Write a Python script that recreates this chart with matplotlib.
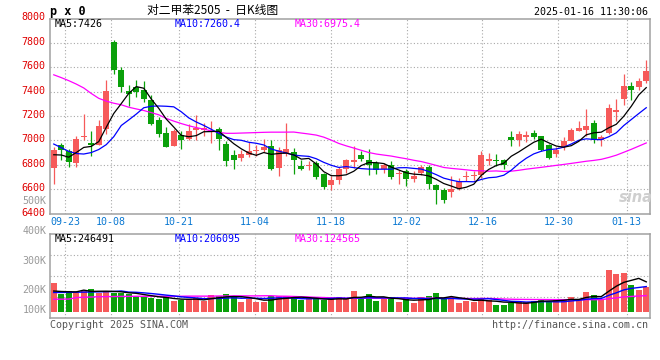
import numpy as np
import matplotlib
matplotlib.use('Agg')
import matplotlib.pyplot as plt
from matplotlib.transforms import ScaledTranslation

# ---------------- data ----------------
dates = ['09-19','09-20','09-23','09-24','09-25','09-26','09-27','09-30',
         '10-08','10-09','10-10','10-11','10-14','10-15','10-16','10-17','10-18',
         '10-21','10-22','10-23','10-24','10-25','10-28','10-29','10-30','10-31',
         '11-01','11-04','11-05','11-06','11-07','11-08','11-11','11-12','11-13','11-14','11-15',
         '11-18','11-19','11-20','11-21','11-22','11-25','11-26','11-27','11-28','11-29',
         '12-02','12-03','12-04','12-05','12-06','12-09','12-10','12-11','12-12','12-13',
         '12-16','12-17','12-18','12-19','12-20','12-23','12-24','12-25','12-26','12-27',
         '12-30','12-31','01-02','01-03','01-06','01-07','01-08','01-09','01-10',
         '01-13','01-14','01-15','01-16']

opens = [6773,6959,6915,6814,7024,6978,6965,7095,7806,7579,
         7407,7437,7415,7333,7164,7060,6951,7046,7014,7088,
         7082,7065,7093,6972,6882,6858,6882,6910,6923,6956,
         6773,6890,6901,6792,6787,6814,6724,6636,6672,6765,
         6822,6877,6841,6814,6765,6800,6724,6745,6685,6732,
         6778,6636,6590,6573,6609,6700,6706,6715,6828,6841,
         6836,7024,7005,7030,7060,7038,6964,6890,6945,6997,
         7079,7087,7142,7005,7060,7229,7339,7448,7434,7484]
highs = [6945,6978,6930,7038,7218,7073,7170,7497,7820,7600,
         7456,7497,7489,7374,7188,7110,7090,7074,7136,7210,
         7142,7156,7106,6992,6923,6923,6989,6964,7011,7005,
         6942,7142,6937,6841,6833,6828,6732,6705,6781,6850,
         6956,6910,6929,6828,6814,6833,6759,6765,6745,6800,
         6800,6644,6609,6705,6691,6751,6745,6915,6896,6887,
         6850,7079,7079,7079,7087,7040,6973,6943,7024,7101,
         7156,7257,7169,7046,7298,7341,7546,7475,7511,7661]
lows = [6645,6841,6780,6778,7005,6869,6960,7054,7546,7400,
        7284,7352,7311,7128,7027,6942,6950,6931,7005,7000,
        7033,6978,6918,6792,6768,6828,6863,6874,6901,6759,
        6710,6869,6726,6754,6754,6683,6601,6590,6642,6732,
        6773,6828,6718,6726,6732,6685,6644,6622,6655,6718,
        6603,6478,6486,6535,6595,6663,6672,6691,6800,6792,
        6765,6956,6950,6983,7014,6915,6847,6860,6923,6992,
        7074,7033,6978,6956,7052,7156,7292,7333,7415,7470]
closes = [6923,6923,6820,7013,7032,6965,7120,7407,7579,7437,
          7382,7401,7341,7136,7054,6942,7074,7000,7079,7100,
          7101,7082,7013,6828,6841,6890,6910,6918,6942,6768,
          6923,6931,6841,6768,6797,6696,6614,6677,6765,6836,
          6841,6849,6800,6759,6800,6696,6730,6685,6704,6781,
          6642,6590,6513,6601,6669,6705,6712,6877,6846,6828,
          6798,7000,7054,7046,7024,6923,6852,6923,6997,7087,
          7101,7120,7005,7024,7265,7246,7448,7415,7489,7566]
volumes = [240000,148000,172000,167000,169000,189000,153000,175000,158000,153000,
           148000,131000,126000,112000,107000,120000,90000,98000,107000,112000,
           90000,139000,134000,145000,126000,85000,104000,85000,85000,131000,
           131000,128000,120000,98000,112000,107000,98000,104000,120000,104000,
           172000,104000,148000,90000,107000,117000,85000,104000,71000,120000,
           131000,153000,104000,126000,71000,93000,82000,112000,98000,57000,
           57000,74000,85000,85000,90000,107000,82000,98000,104000,126000,
           104000,164000,139000,98000,344000,311000,322000,221000,180000,202000]

# moving-average values before enough history exists
ma5_head = [6882, 6880, 6862, 6900]
ma10_head = [6970, 6940, 6910, 6892, 6888, 6900, 6925, 6965, 7030]
ma30_head = [7538, 7515, 7490, 7462, 7430, 7385, 7345, 7322, 7305, 7292,
             7272, 7258, 7245, 7228, 7210, 7180, 7158, 7138, 7120, 7105,
             7092, 7078, 7065, 7058, 7058, 7060, 7062, 7064, 7066]
vma5_head = [172000, 168000, 166000, 165000]
vma10_head = [160000, 160000, 161000, 162000, 163000, 164000, 165000, 166000, 168000]
vma30_head = [105000, 105000, 106000, 118000, 121000, 123000, 125000, 126000, 127000, 128000,
              128000, 129000, 129000, 129000, 129000, 129000, 129000, 129000, 130000, 130000,
              130000, 130000, 131000, 131000, 132000, 132000, 132000, 132000, 133000]

tick_labels = ['09-23', '10-08', '10-21', '11-04', '11-18', '12-02', '12-16', '12-30', '01-13']
price_ticks = [6400, 6600, 6800, 7000, 7200, 7400, 7600, 7800, 8000]
vol_axis_labels = ['500K', '400K', '300K', '200K', '100K']
price_ma_text = ['MA5:7426', 'MA10:7260.4', 'MA30:6975.4']
vol_ma_text = ['MA5:246491', 'MA10:206095', 'MA30:124565']

# ---------------- helpers ----------------
def moving_avg(vals, n, head):
    vals = np.asarray(vals, dtype=float)
    out = np.empty(len(vals))
    out[:n - 1] = head
    for i in range(n - 1, len(vals)):
        out[i] = vals[i - n + 1:i + 1].mean()
    return out

W, H = 660, 360
def fx(px): return px / W
def fy(py): return 1 - py / H

RED = '#f65a5a'
GREEN = '#0aa00a'
GRIDC = '#a8a8a8'
SPINEC = '#a0a0a0'
MONO = 'DejaVu Sans Mono'
CJK = ['Noto Sans CJK SC', 'DejaVu Sans']

fig = plt.figure(figsize=(6.6, 3.6), dpi=100)
fig.patch.set_facecolor('white')

ax = fig.add_axes([fx(50), fy(213.5), 600 / W, 195 / H])
axv = fig.add_axes([fx(50), fy(318.3), 600 / W, 84.3 / H])

n = len(closes)
x = np.arange(n)
o = np.array(opens); c = np.array(closes); hi = np.array(highs); lo = np.array(lows)
up = c >= o
cols = [RED if u else GREEN for u in up]

# grid positions for date labels (sina spaces its date grid slightly wider than candles)
tick_idx = [dates.index(t) for t in tick_labels]
tick_x = [i * 1.0115 - 0.49 for i in tick_idx]

dash = (0, (1, 2))
for a in (ax, axv):
    a.set_xlim(-0.5, n - 0.5)
    for s in a.spines.values():
        s.set_color(SPINEC)
        s.set_linewidth(1.1)
    a.tick_params(length=0)
    for t in tick_x:
        a.axvline(t, color=GRIDC, lw=0.8, ls=dash, zorder=0)

# ---------------- price panel ----------------
ax.set_ylim(6400, 8000)
for p in price_ticks[1:-1]:
    ax.axhline(p, color=GRIDC, lw=0.8, ls=dash, zorder=0)

ax.vlines(x, lo, hi, colors=cols, lw=0.9, zorder=2)
body_bottom = np.minimum(o, c)
body_h = np.maximum(np.abs(c - o), 9)
ax.bar(x, body_h, bottom=body_bottom, width=0.76, color=cols, linewidth=0, zorder=3)

ma5 = moving_avg(closes, 5, ma5_head)
ma10 = moving_avg(closes, 10, ma10_head)
ma30 = moving_avg(closes, 30, ma30_head)
ax.plot(x, ma30, color='#ff00ff', lw=0.9, zorder=4)
ax.plot(x, ma10, color='#0000ff', lw=0.9, zorder=4)
ax.plot(x, ma5, color='black', lw=0.9, zorder=4)

ax.set_yticks(price_ticks)
ax.set_yticklabels([str(p) for p in price_ticks], color='#e00000', fontsize=7.2, family=MONO)
ax.tick_params(axis='y', pad=3)
for lab in ax.get_yticklabels():
    lab.set_transform(lab.get_transform() + ScaledTranslation(0, 2 / 100, fig.dpi_scale_trans))
ax.set_xticks(tick_x)
ax.set_xticklabels(tick_labels, color='#0a78d2', fontsize=7.2, family=MONO)
ax.tick_params(axis='x', pad=2.5)

for txt, px, colr in zip(price_ma_text, [55, 175, 295], ['black', '#0000ff', '#ff00ff']):
    fig.text(fx(px), fy(24), txt, color=colr, fontsize=7.2, family=MONO, ha='left', va='center')

# sina watermark
fig.text(fx(636), fy(197), 'sina', color='#cfcfcf', fontsize=10.5, fontweight='bold',
         style='italic', family='DejaVu Sans', ha='center', va='center', zorder=1)

# ---------------- volume panel ----------------
vmin, vmax = -51639, 639344
axv.set_ylim(vmin, vmax)
for f in (0.25, 0.5, 0.75):
    axv.axhline(vmin + f * (vmax - vmin), color=GRIDC, lw=0.8, ls=dash, zorder=0)
axv.bar(x, volumes, width=0.74, color=cols, linewidth=0, zorder=2)
vma5 = moving_avg(volumes, 5, vma5_head)
vma10 = moving_avg(volumes, 10, vma10_head)
vma30 = moving_avg(volumes, 30, vma30_head)
axv.plot(x, vma30, color='#ff00ff', lw=1.0, zorder=3)
axv.plot(x, vma10, color='#0000ff', lw=1.0, zorder=3)
axv.plot(x, vma5, color='black', lw=1.0, zorder=3)
axv.set_xticks(tick_x)
axv.set_xticklabels([])
axv.set_yticks([])

for txt, px, colr in zip(vol_ma_text, [55, 175, 295], ['black', '#0000ff', '#ff00ff']):
    fig.text(fx(px), fy(238.5), txt, color=colr, fontsize=7.2, family=MONO, ha='left', va='center')

for txt, py in zip(vol_axis_labels, [201, 230.7, 260.7, 290, 310]):
    fig.text(fx(46.5), fy(py), txt, color='#999999', fontsize=7.2, family=MONO, ha='right', va='center')

# ---------------- header / footer ----------------
fig.text(fx(50), fy(11), 'p x 0', color='black', fontsize=8.5, fontweight='bold', family=MONO,
         ha='left', va='center')
fig.text(fx(213), fy(10.5), '对二甲苯2505  -  日K线图', color='black', fontsize=8.5,
         family=CJK, ha='center', va='center')
fig.text(fx(648), fy(12.3), '2025-01-16 11:30:06', color='black', fontsize=7.2, family=MONO,
         ha='right', va='center')
fig.text(fx(50), fy(324.5), 'Copyright 2025 SINA.COM', color='#555555', fontsize=7.2, family=MONO,
         ha='left', va='center')
fig.text(fx(648), fy(324.5), 'http://finance.sina.com.cn', color='#555555', fontsize=7.2, family=MONO,
         ha='right', va='center')

fig.savefig('out.png', dpi=100, facecolor='white')
